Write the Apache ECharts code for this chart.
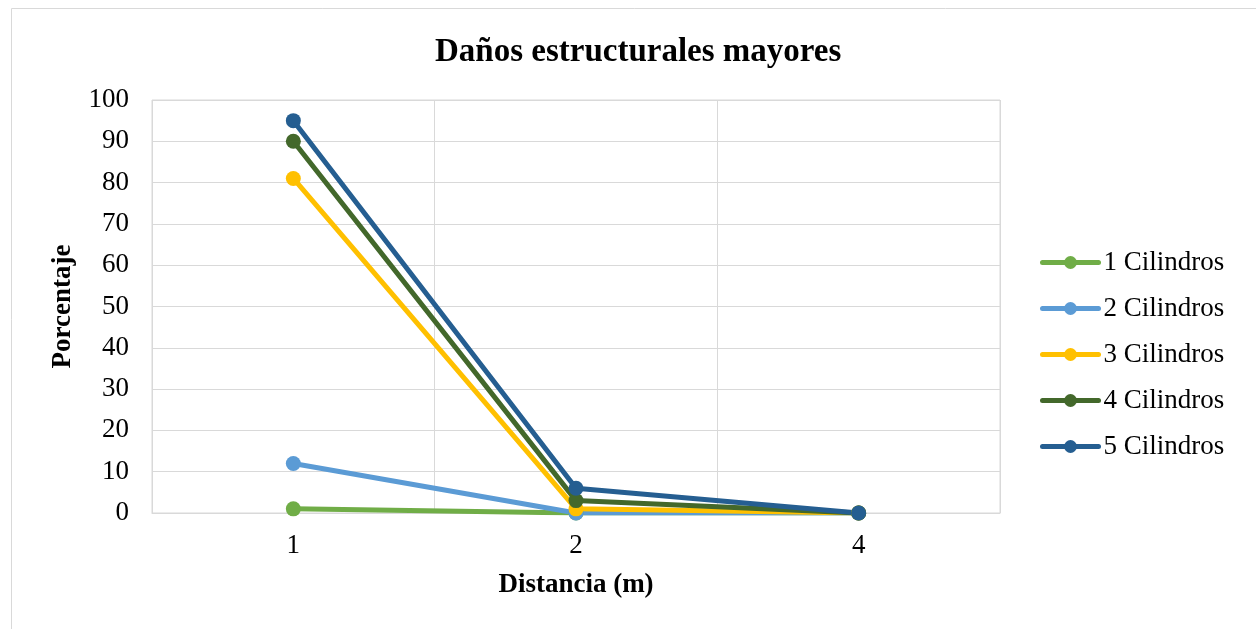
<!DOCTYPE html>
<html><head><meta charset="utf-8">
<script src="https://cdn.jsdelivr.net/npm/echarts@6/dist/echarts.min.js"></script>
<style>html,body{margin:0;padding:0;background:#fff}#c{width:1256px;height:629px}</style>
</head><body><div id="c"></div>
<script>
const categories = ['1','2','4'];
const seriesNames = ['1 Cilindros','2 Cilindros','3 Cilindros','4 Cilindros','5 Cilindros'];
const s1 = [1, 0, 0];
const s2 = [12, 0, 0];
const s3 = [81, 1, 0];
const s4 = [90, 3, 0];
const s5 = [95, 6, 0];
const colors = ['#70AD47','#5B9BD5','#FFC000','#43682B','#255E91'];
const data = [s1,s2,s3,s4,s5];
const font = '"Liberation Serif","Times New Roman",serif';
const chart = echarts.init(document.getElementById('c'));
chart.setOption({
  animation:false,
  graphic:[{type:'rect',shape:{x:11.5,y:8.5,width:1250,height:625},style:{fill:'none',stroke:'#d9d9d9',lineWidth:1}}],
  title:{text:'Daños estructurales mayores',left:430,top:31,textStyle:{fontFamily:font,fontSize:33,fontWeight:'bold',color:'#000'}},
  legend:{orient:'vertical',left:1035,top:244,itemGap:19,itemWidth:56,itemHeight:16,
    textStyle:{fontFamily:font,fontSize:27,color:'#000'},
    lineStyle:{width:5,cap:'round'},
    data:seriesNames},
  grid:{left:152,top:100,width:848,height:413,show:true,borderColor:'#d9d9d9',borderWidth:1},
  xAxis:{type:'category',data:categories,boundaryGap:true,
    name:'Distancia (m)',nameLocation:'middle',nameGap:59,
    nameTextStyle:{fontFamily:font,fontSize:27,fontWeight:'bold',color:'#000'},
    axisLine:{lineStyle:{color:'#d9d9d9'}},axisTick:{show:false},
    axisLabel:{fontFamily:font,fontSize:27,color:'#000',margin:19},
    splitLine:{show:true,lineStyle:{color:'#d9d9d9',width:1}}},
  yAxis:{type:'value',min:0,max:100,interval:10,
    name:'Porcentaje',nameLocation:'middle',nameGap:75,
    nameTextStyle:{fontFamily:font,fontSize:27,fontWeight:'bold',color:'#000'},
    axisLine:{show:false},axisTick:{show:false},
    axisLabel:{fontFamily:font,fontSize:27,color:'#000',margin:23},
    splitLine:{lineStyle:{color:'#d9d9d9',width:1}}},
  series:data.map((d,i)=>({name:seriesNames[i],type:'line',data:d,
    symbol:'circle',symbolSize:15,
    lineStyle:{width:5,color:colors[i]},itemStyle:{color:colors[i]}}))
});
</script></body></html>
